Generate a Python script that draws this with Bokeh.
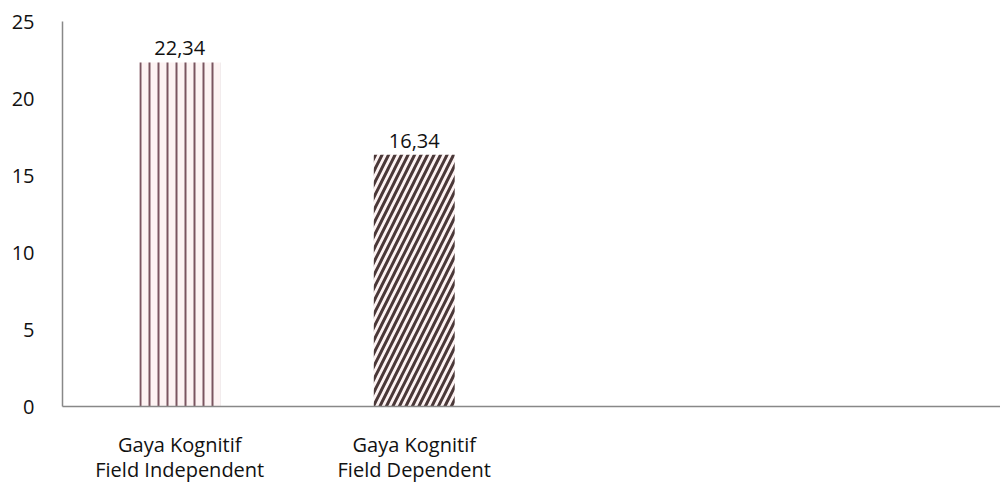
from bokeh.plotting import figure
from bokeh.models import FactorRange, Range1d, FixedTicker, ColumnDataSource, LabelSet
from bokeh.core.properties import value
from bokeh.embed import file_html
from bokeh.resources import INLINE

categories = ["Gaya Kognitif\nField Independent", "Gaya Kognitif\nField Dependent", " ", "  "]
values = [22.34, 16.34]
value_labels = ["22,34", "16,34"]
y_ticks = [0, 5, 10, 15, 20, 25]

FONT = "Open Sans"

p = figure(width=1000, height=491, x_range=FactorRange(*categories, range_padding=0),
           y_range=Range1d(0, 25), output_backend="svg", toolbar_location=None,
           min_border_left=62, min_border_right=0, min_border_top=21, min_border_bottom=85)
p.outline_line_color = None
p.xgrid.grid_line_color = None
p.ygrid.grid_line_color = None
p.background_fill_color = "white"
p.border_fill_color = "white"

patterns = ["|", "/"]
hatch_colors = ["#7a5560", "#4a3838"]
hatch_scales = [9, 13]
hatch_weights = [2, 3]
src = ColumnDataSource(dict(x=categories[:2], top=values, lab=value_labels,
                            pat=patterns, hc=hatch_colors, hs=hatch_scales, hw=hatch_weights))
p.vbar(x="x", top="top", width=0.345, source=src, fill_color="#fdf3f3", line_color=None,
       hatch_pattern="pat", hatch_color="hc", hatch_scale="hs", hatch_weight="hw")

labels = LabelSet(x="x", y="top", text="lab", source=src, text_align="center",
                  text_baseline="bottom", y_offset=7, text_font=value(FONT),
                  text_font_size="20px", text_color="#111111")
p.add_layout(labels)

p.yaxis.ticker = FixedTicker(ticks=y_ticks)
p.yaxis.major_tick_line_color = None
p.yaxis.minor_tick_line_color = None
p.yaxis.major_tick_out = 0
p.yaxis.minor_tick_out = 0
p.yaxis.axis_line_color = "#888888"
p.yaxis.axis_line_width = 1.5
p.yaxis.major_label_standoff = 28
p.yaxis.major_label_text_font = FONT
p.yaxis.major_label_text_font_size = "20px"
p.yaxis.major_label_text_color = "#111111"

p.xaxis.major_tick_line_color = None
p.xaxis.minor_tick_line_color = None
p.xaxis.major_tick_out = 0
p.xaxis.minor_tick_out = 0
p.xaxis.axis_line_color = "#888888"
p.xaxis.axis_line_width = 1.5
p.xaxis.major_label_standoff = 24
p.xaxis.major_label_text_font = FONT
p.xaxis.major_label_text_font_size = "20px"
p.xaxis.major_label_text_color = "#111111"
p.xaxis.major_label_text_line_height = 0.95

open("out.html", "w").write(file_html(p, INLINE))
